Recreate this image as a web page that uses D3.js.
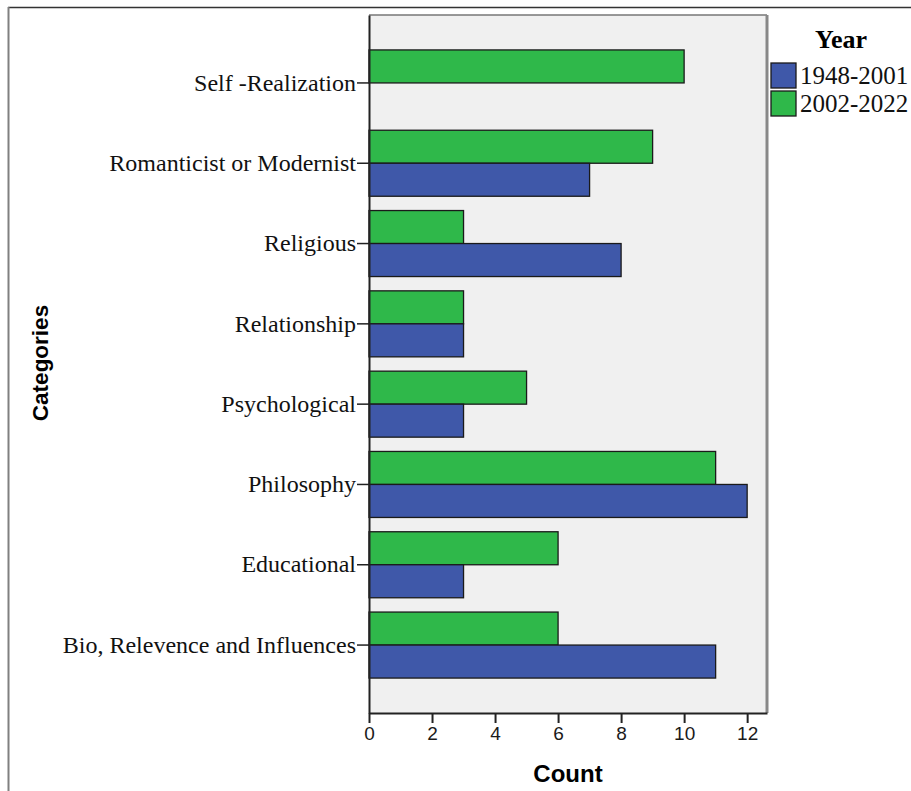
<!DOCTYPE html>
<html>
<head>
<meta charset="utf-8">
<script src="https://cdn.jsdelivr.net/npm/d3@7"></script>
<style>
  body { margin: 0; background: #fff; }
</style>
</head>
<body>
<div id="chart"></div>
<script>
// data
var categories = ["Self -Realization", "Romanticist or Modernist", "Religious", "Relationship",
                  "Psychological", "Philosophy", "Educational", "Bio, Relevence and Influences"];
var years = ["1948-2001", "2002-2022"];
var counts1948 = [0, 7, 8, 3, 3, 12, 3, 11];
var counts2002 = [10, 9, 3, 3, 5, 11, 6, 6];
var xTicks = [0, 2, 4, 6, 8, 10, 12];

var w = 911, h = 791;
var plotLeft = 369, plotRight = 767, plotTop = 15, plotBottom = 713;

var svg = d3.select("#chart").append("svg")
    .attr("width", w)
    .attr("height", h);

// outer frame (top + left only visible)
svg.append("line").attr("x1", 8).attr("x2", w).attr("y1", 7.5).attr("y2", 7.5)
   .style("stroke", "#333").style("stroke-width", 1.5);
svg.append("line").attr("x1", 8.5).attr("x2", 8.5).attr("y1", 7).attr("y2", h)
   .style("stroke", "#808080").style("stroke-width", 2);

var x = d3.scaleLinear().domain([0, 12.63]).range([plotLeft, plotRight]);
var y = d3.scaleBand().domain(categories).range([plotTop, plotBottom])
    .paddingInner(0.178).paddingOuter(0.435);
var sub = d3.scaleBand().domain(["g", "b"]).range([0, y.bandwidth()]);

// plot background
svg.append("rect")
   .attr("x", plotLeft).attr("y", plotTop)
   .attr("width", plotRight - plotLeft).attr("height", plotBottom - plotTop)
   .style("fill", "#f0f0f0");

var rows = categories.map(function(c, i) {
  return {cat: c, b: counts1948[i], g: counts2002[i]};
});

var groups = svg.selectAll(".grp")
    .data(rows)
    .enter()
    .append("g")
    .attr("class", "grp")
    .attr("transform", function(d) { return "translate(0," + y(d.cat) + ")"; });

groups.filter(function(d) { return d.g > 0; })
    .append("rect")
    .attr("x", x(0))
    .attr("y", sub("g"))
    .attr("width", function(d) { return x(d.g) - x(0); })
    .attr("height", sub.bandwidth())
    .style("fill", "#2fb84a")
    .style("stroke", "#1a1a1a")
    .style("stroke-width", 1.3);

groups.filter(function(d) { return d.b > 0; })
    .append("rect")
    .attr("x", x(0))
    .attr("y", sub("b"))
    .attr("width", function(d) { return x(d.b) - x(0); })
    .attr("height", sub.bandwidth())
    .style("fill", "#3f58a9")
    .style("stroke", "#1a1a1a")
    .style("stroke-width", 1.3);

// plot border
svg.append("line").attr("x1", plotLeft).attr("x2", plotRight).attr("y1", plotTop).attr("y2", plotTop)
   .style("stroke", "#777").style("stroke-width", 1.5);
svg.append("line").attr("x1", plotRight).attr("x2", plotRight).attr("y1", plotTop).attr("y2", plotBottom)
   .style("stroke", "#888").style("stroke-width", 3);

// x axis
var xAxis = svg.append("g")
    .attr("transform", "translate(0," + plotBottom + ")")
    .call(d3.axisBottom(x).tickValues(xTicks).tickSize(10).tickSizeOuter(0).tickPadding(4));
xAxis.attr("font-family", "Arial, 'Liberation Sans', sans-serif").attr("font-size", 19);
xAxis.select(".domain").style("stroke", "#222").style("stroke-width", 2);
xAxis.selectAll(".tick line").style("stroke", "#222").style("stroke-width", 2);
xAxis.selectAll("text").style("fill", "#1a1a1a");

// y axis
var yAxis = svg.append("g")
    .attr("transform", "translate(" + plotLeft + ",0)")
    .call(d3.axisLeft(y).tickSize(12).tickSizeOuter(0).tickPadding(1));
yAxis.attr("font-family", "'Liberation Serif', 'Times New Roman', serif").attr("font-size", 24);
yAxis.select(".domain").style("stroke", "#222").style("stroke-width", 2);
yAxis.selectAll(".tick line").style("stroke", "#222").style("stroke-width", 1.5);
yAxis.selectAll("text").style("fill", "#111");

// axis titles
svg.append("text")
   .attr("x", 568).attr("y", 782)
   .attr("text-anchor", "middle")
   .style("font-family", "Arial, 'Liberation Sans', sans-serif")
   .style("font-weight", "bold").style("font-size", "24px")
   .text("Count");

svg.append("text")
   .attr("transform", "translate(48,363) rotate(-90)")
   .attr("text-anchor", "middle")
   .style("font-family", "Arial, 'Liberation Sans', sans-serif")
   .style("font-weight", "bold").style("font-size", "22.5px")
   .text("Categories");

// legend
var legendColors = ["#3f58a9", "#2fb84a"];
svg.append("text")
   .attr("x", 841).attr("y", 48)
   .attr("text-anchor", "middle")
   .style("font-family", "'Liberation Serif', 'Times New Roman', serif")
   .style("font-weight", "bold").style("font-size", "26px")
   .text("Year");

var leg = svg.selectAll(".leg")
    .data(years)
    .enter()
    .append("g")
    .attr("class", "leg")
    .attr("transform", function(d, i) { return "translate(771," + (63 + i * 28) + ")"; });

leg.append("rect")
   .attr("width", 25).attr("height", 25)
   .style("fill", function(d, i) { return legendColors[i]; })
   .style("stroke", "#1a1a1a").style("stroke-width", 1.3);

leg.append("text")
   .attr("x", 29).attr("y", 21)
   .style("font-family", "'Liberation Serif', 'Times New Roman', serif")
   .style("font-size", "25px")
   .style("fill", "#111")
   .text(function(d) { return d; });
</script>
</body>
</html>
